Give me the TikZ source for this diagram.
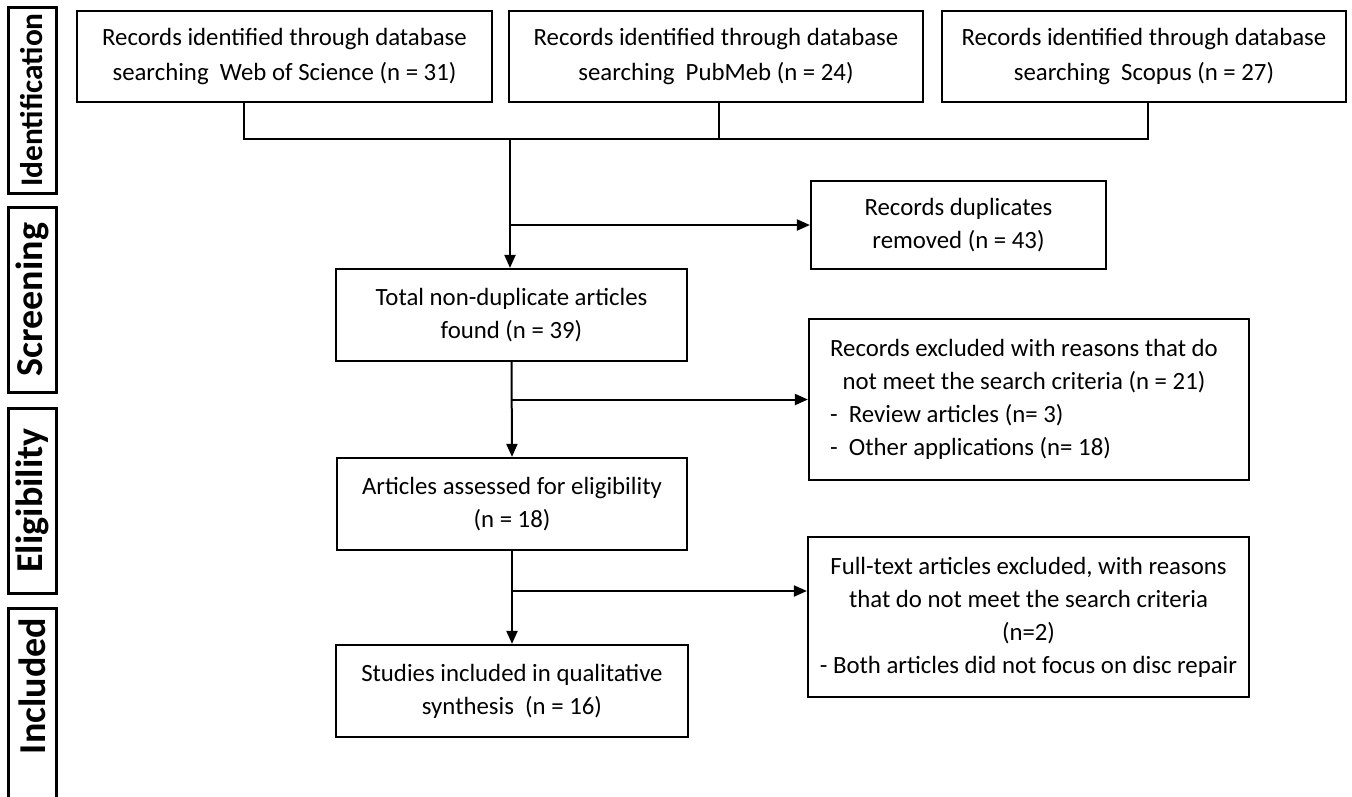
\documentclass[tikz,border=0pt]{standalone}
\usepackage{fontspec}
\setmainfont{Carlito}
\usetikzlibrary{arrows.meta}
\begin{document}
\begin{tikzpicture}[x=1pt,y=-1pt,
  box/.style={draw,line width=2.2pt,align=center,inner sep=0pt,font=\fontsize{24.8}{33}\selectfont},
  topbox/.style={box,font=\fontsize{24.8}{35}\selectfont,minimum height=91pt},
  stage/.style={draw,line width=3pt,inner sep=0pt,rotate=90,minimum height=48pt,font=\bfseries\fontsize{38}{38}\selectfont},
  conn/.style={line width=2pt},
  arr/.style={conn,-{Triangle[length=13pt,width=11pt]}}]
\clip (0,0) rectangle (1352,796);
\fill[white] (0,0) rectangle (1352,796);
% stage labels
\node[stage,minimum width=186pt,font=\bfseries\fontsize{31.4}{32}\selectfont] (sid) at (32,100) {Identification};
\node[stage,minimum width=185pt] (ssc) at (32,299.5) {Screening};
\node[stage,minimum width=185pt] (sel) at (32,500.5) {Eligibility};
\node[stage,minimum width=200pt] (sin) at (32,708) {\hspace*{44pt}Included};
% top boxes
\node[topbox,minimum width=415pt] (b1) at (284.5,56.5) {Records identified through database\\searching~ Web of Science (n = 31)};
\node[topbox,minimum width=414pt] (b2) at (716,56.5) {Records identified through database\\searching~ PubMeb (n = 24)};
\node[topbox,minimum width=404pt] (b3) at (1144,56.5) {Records identified through database\\searching~ Scopus (n = 27)};
% main column
\node[box,minimum width=295pt,minimum height=88pt] (dup) at (958.5,225) {Records duplicates\\removed (n = 43)};
\node[box,minimum width=351pt,minimum height=92pt] (tot) at (511.5,315) {Total non-duplicate articles\\found (n = 39)};
\node[box,minimum width=440pt,minimum height=161pt] (exc) at (1029,399.5) {\begin{tabular}{@{}l@{}}\multicolumn{1}{@{}c@{}}{Records excluded with reasons that do}\\\multicolumn{1}{@{}c@{}}{not meet the search criteria (n = 21)}\\-~ Review articles (n= 3)\\-~ Other applications (n= 18)\end{tabular}\hspace*{10pt}};
\node[box,minimum width=350pt,minimum height=92pt] (art) at (512,504) {Articles assessed for eligibility\\(n = 18)};
\node[box,minimum width=441pt,minimum height=160pt] (full) at (1028.5,617) {Full-text articles excluded, with reasons\\that do not meet the search criteria\\(n=2)\\- Both articles did not focus on disc repair};
\node[box,minimum width=352pt,minimum height=92pt] (stu) at (512,691) {Studies included in qualitative\\synthesis~ (n = 16)};
% junction coordinates
\coordinate (jl) at (244,139);
\coordinate (jm) at (719,139);
\coordinate (jr) at (1148,139);
\coordinate (jc) at (510,139);
\coordinate (k3) at (512,591);
% connectors
\draw[conn] (jl |- b1.south) -- (jl) -- (jr) -- (jr |- b3.south);
\draw[conn] (jm |- b2.south) -- (jm);
\draw[arr] (jc) -- (jc |- tot.north);
\draw[arr] (jc |- dup.west) -- (dup.west);
\draw[arr] (tot.south) -- (art.north);
\draw[arr] (tot.south |- exc.west) -- (exc.west);
\draw[arr] (art.south) -- (stu.north);
\draw[arr] (k3) -- (k3 -| full.west);
\end{tikzpicture}
\end{document}
